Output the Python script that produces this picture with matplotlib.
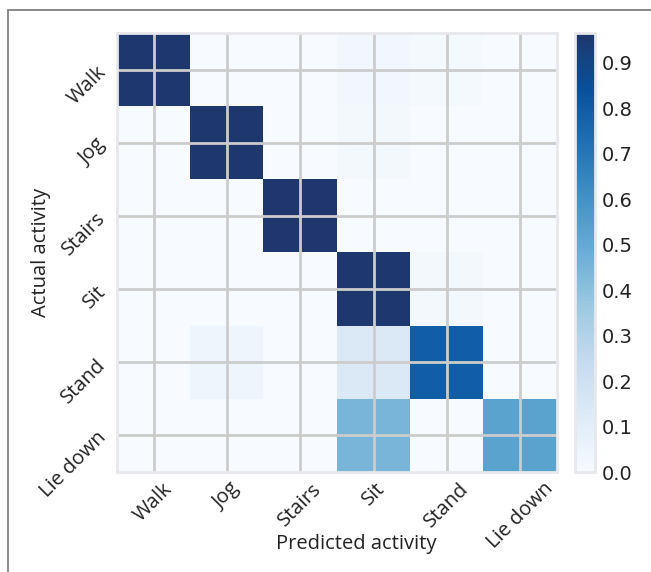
import numpy as np
import matplotlib
matplotlib.use('Agg')
import matplotlib.pyplot as plt
from matplotlib.patches import Rectangle
from matplotlib.colors import LinearSegmentedColormap

# confusion matrix (rows = actual, cols = predicted)
activities = ['Walk', 'Jog', 'Stairs', 'Sit', 'Stand', 'Lie down']
row_walk  = [0.96, 0.00, 0.00, 0.025, 0.015, 0.00]
row_jog   = [0.00, 0.96, 0.00, 0.02, 0.00, 0.00]
row_stair = [0.00, 0.00, 0.965, 0.00, 0.00, 0.00]
row_sit   = [0.00, 0.00, 0.00, 0.96, 0.02, 0.00]
row_stand = [0.00, 0.04, 0.00, 0.135, 0.79, 0.00]
row_lie   = [0.00, 0.00, 0.00, 0.445, 0.00, 0.525]
cbar_ticks = [0.0, 0.1, 0.2, 0.3, 0.4, 0.5, 0.6, 0.7, 0.8, 0.9]

conf = np.array([row_walk, row_jog, row_stair, row_sit, row_stand, row_lie])

# Blues, with a slightly softer navy at the top end
blues = plt.get_cmap('Blues')
cols = [blues(x) for x in np.linspace(0, 1, 9)]
cols[-1] = '#1f376c'
cmap = LinearSegmentedColormap.from_list('blues_soft', cols, N=256)

W, H = 651, 572
fig = plt.figure(figsize=(W/100, H/100), dpi=100)

# grey frame round the figure (cut at right/bottom)
fig.patches.append(Rectangle((8/W, -0.1), 1.2, 1 - 10/H + 0.1, transform=fig.transFigure,
                             fill=False, edgecolor='#808080', lw=1.3))

ax = fig.add_axes([117/W, 1 - 472/H, 440/W, 439/H])
cax = fig.add_axes([575/W, 1 - 472/H, 20/W, 439/H])

im = ax.imshow(conf, cmap=cmap, interpolation='nearest', vmin=0, vmax=conf.max(), aspect='auto')

lab_font = dict(family='Open Sans', size=14.5, color='#222222')
ax.set_xticks(range(len(activities)))
ax.set_yticks(range(len(activities)))
ax.set_xticklabels(activities, rotation=45, fontdict=lab_font)
ax.set_yticklabels(activities, rotation=45, fontdict=lab_font)
ax.tick_params(length=0, pad=5)
ax.grid(True, color='#cccccc', lw=2)
for s in ax.spines.values():
    s.set_color('#e8e8ec')
    s.set_linewidth(2)

ax.set_xlabel('Predicted activity', fontdict=dict(family='Open Sans', size=14.5, color='#222222'))
ax.xaxis.set_label_coords((356 - 117)/440, (472 - 534)/439)
ax.set_ylabel('Actual activity', fontdict=dict(family='Open Sans', size=14.5, color='#222222'))
ax.yaxis.set_label_coords((51 - 117)/440, 0.5)

cb = fig.colorbar(im, cax=cax, ticks=cbar_ticks)
cb.outline.set_edgecolor('#e8e8ec')
cb.outline.set_linewidth(2)
cax.tick_params(length=0, pad=5, labelsize=14, labelcolor='#222222')
cax.set_yticklabels(['%.1f' % t for t in cbar_ticks])

plt.savefig('out.png', dpi=100)
